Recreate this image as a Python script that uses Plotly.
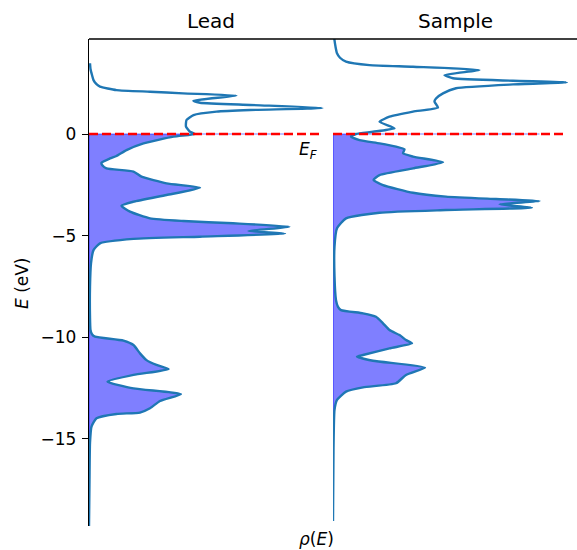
import plotly.graph_objects as go

# ---------------- data ----------------
lead_E = [3.48, 3.2, 2.9, 2.65, 2.45, 2.33, 2.16, 2.08, 2.0, 1.89, 1.64, 1.54, 1.43, 1.28,
          1.18, 1.10, 0.93, 0.69, 0.36, 0.11, 0.0,
          -0.13, -0.46, -0.79, -1.08, -1.2, -1.41, -1.55, -1.69, -1.85, -2.1, -2.43, -2.64,
          -3.0, -3.33, -3.53, -3.82, -4.15, -4.28, -4.39, -4.56, -4.77, -4.9, -5.05, -5.16,
          -5.38, -5.71, -6.36, -7.5, -9.0, -9.64, -9.85, -9.97, -10.16, -10.38, -10.79,
          -11.12, -11.36, -11.56, -11.85, -12.18, -12.51, -12.79, -13.13, -13.49, -13.7,
          -13.77, -13.98, -14.39, -15.2, -17.0, -19.28]
lead_rho = [0.02, 0.03, 0.06, 0.09, 0.15, 0.22, 0.55, 1.22, 1.88, 2.95, 2.09, 2.22, 3.22, 4.67,
            3.22, 2.55, 2.09, 1.95, 1.94, 2.02, 2.12,
            1.69, 1.09, 0.75, 0.55, 0.42, 0.25, 0.27, 0.35, 0.89, 1.05, 1.55, 2.22,
            1.55, 0.89, 0.65, 0.82, 1.22, 1.89, 2.88, 4.01, 3.19, 3.92, 2.22, 0.89,
            0.22, 0.09, 0.04, 0.02, 0.02, 0.03, 0.06, 0.12, 0.69, 0.89, 1.02,
            1.15, 1.35, 1.59, 0.89, 0.37, 0.89, 1.84, 1.42, 1.22, 1.02,
            0.55, 0.15, 0.05, 0.02, 0.01, 0.0]

sample_E = [4.8, 4.62, 4.3, 3.97, 3.75, 3.56, 3.39, 3.31, 3.15, 2.9, 2.74, 2.62, 2.54, 2.44,
            2.25, 2.0, 1.75, 1.59, 1.3, 1.1, 0.85, 0.6, 0.28, 0.11, 0.0,
            -0.13, -0.3, -0.46, -0.62, -0.75, -0.95, -1.11, -1.39, -1.69, -2.02, -2.26,
            -2.51, -2.89, -3.08, -3.2, -3.3, -3.46, -3.62, -3.74, -3.87, -4.15, -4.64,
            -5.54, -7.0, -8.17, -8.5, -8.66, -8.82, -8.99, -9.31, -9.64, -9.89, -10.13,
            -10.3, -10.54, -10.87, -10.95, -11.15, -11.49, -11.85, -12.26, -12.46, -12.67,
            -13.08, -13.57, -15.5, -19.03]
sample_rho = [0.02, 0.03, 0.05, 0.08, 0.14, 0.26, 0.73, 1.6, 2.93, 2.23, 2.40, 3.6, 4.68, 3.6,
              2.46, 2.2, 2.06, 2.03, 2.10, 1.6, 1.13, 0.93, 1.23, 0.80, 0.46,
              0.36, 0.53, 0.93, 1.26, 1.43, 1.40, 1.60, 2.20, 1.60, 0.93, 0.81,
              1.0, 1.60, 2.26, 3.26, 4.13, 3.33, 3.98, 2.26, 0.93, 0.26, 0.08,
              0.03, 0.03, 0.06, 0.1, 0.16, 0.6, 0.86, 1.0, 1.13, 1.33, 1.46,
              1.58, 1.13, 0.6, 0.48, 0.8, 1.84, 1.46, 1.26, 0.6, 0.26,
              0.08, 0.03, 0.01, 0.0]

E_FERMI = 0.0
panel_titles = ["Lead", "Sample"]
ytick_vals = [-15, -10, -5, 0]
ytick_text = ["\u221215", "\u221210", "\u22125", "0"]

LINE_BLUE = "#1f77b4"
FILL_BLUE = "rgba(0,0,255,0.5)"
SMOOTH = 0.5

fig = go.Figure()

panels = [(lead_E, lead_rho, "x"), (sample_E, sample_rho, "x2")]
for E, rho, xa in panels:
    occ = [(e, r) for e, r in zip(E, rho) if e <= E_FERMI]
    occ_E = [p[0] for p in occ]
    occ_rho = [p[1] for p in occ]
    edge = max(occ_rho)
    # filled occupied states
    fig.add_trace(go.Scatter(x=occ_rho, y=occ_E, mode="lines", fill="tozerox",
                             fillcolor=FILL_BLUE,
                             line=dict(width=0, shape="spline", smoothing=SMOOTH),
                             xaxis=xa, yaxis="y", showlegend=False, hoverinfo="skip"))
    # fill edges (along E_F and along rho = 0)
    fig.add_trace(go.Scatter(x=[edge, 0, 0], y=[E_FERMI, E_FERMI, occ_E[-1]], mode="lines",
                             line=dict(color=FILL_BLUE, width=1.2),
                             xaxis=xa, yaxis="y", showlegend=False, hoverinfo="skip"))
    # DOS curve
    fig.add_trace(go.Scatter(x=rho, y=E, mode="lines",
                             line=dict(color=LINE_BLUE, width=2.4, shape="spline",
                                       smoothing=SMOOTH),
                             xaxis=xa, yaxis="y", showlegend=False))
    # Fermi level
    fig.add_trace(go.Scatter(x=[0, max(rho)], y=[E_FERMI, E_FERMI], mode="lines",
                             line=dict(color="red", width=2.4, dash="9px,4px"),
                             xaxis=xa, yaxis="y", showlegend=False, hoverinfo="skip"))

W, H = 577, 550
L, R, T, B = 89, 0, 39, 24
pw, ph = W - L - R, H - T - B

def px2paper_x(px):
    return (px - L) / pw

def px2paper_y(py):
    return (H - B - py) / ph

FONT = "DejaVu Sans"

xr = [0, 4.88]
fig.update_layout(
    width=W, height=H,
    margin=dict(l=L, r=R, t=T, b=B),
    paper_bgcolor="white", plot_bgcolor="white",
    font=dict(family=FONT, size=17, color="black"),
    xaxis=dict(domain=[0, 0.5], range=xr, showgrid=False, zeroline=False,
               showticklabels=False, ticks="", showline=False, anchor="y"),
    xaxis2=dict(domain=[0.5, 1], range=xr, showgrid=False, zeroline=False,
                showticklabels=False, ticks="", showline=False, anchor="y"),
    yaxis=dict(range=[-19.28, 4.673], showgrid=False, zeroline=False,
               tickmode="array", tickvals=ytick_vals, ticktext=ytick_text,
               ticks="outside", ticklen=6, tickwidth=1.3, tickcolor="black",
               showline=True, linecolor="black", linewidth=1.3,
               tickfont=dict(family=FONT, size=17, color="black"),
               ticklabelstandoff=2),
)

# top spine
fig.add_shape(type="line", xref="paper", yref="paper", x0=0, x1=1, y0=1, y1=1,
              line=dict(color="black", width=1.3))

# panel titles
for i, t in enumerate(panel_titles):
    fig.add_annotation(text=t, xref="paper", yref="paper",
                       x=0.25 + 0.5 * i, y=px2paper_y(21), xanchor="center", yanchor="middle",
                       showarrow=False, font=dict(family=FONT, size=20, color="black"))

# E_F label
fig.add_annotation(text="<i>E<sub>F</sub></i>", xref="paper", yref="paper",
                   x=px2paper_x(308), y=px2paper_y(150), xanchor="center", yanchor="middle",
                   showarrow=False, font=dict(family=FONT, size=17, color="black"))

# x label
fig.add_annotation(text="<i>\u03c1</i>(<i>E</i>)", xref="paper", yref="paper",
                   x=px2paper_x(316), y=px2paper_y(539), xanchor="center", yanchor="middle",
                   showarrow=False, font=dict(family=FONT, size=17, color="black"))

# y label
fig.add_annotation(text="<i>E</i> (eV)", xref="paper", yref="paper",
                   x=px2paper_x(22), y=px2paper_y(283), xanchor="center", yanchor="middle",
                   textangle=-90, showarrow=False,
                   font=dict(family=FONT, size=17, color="black"))

fig.write_html("out.html")
